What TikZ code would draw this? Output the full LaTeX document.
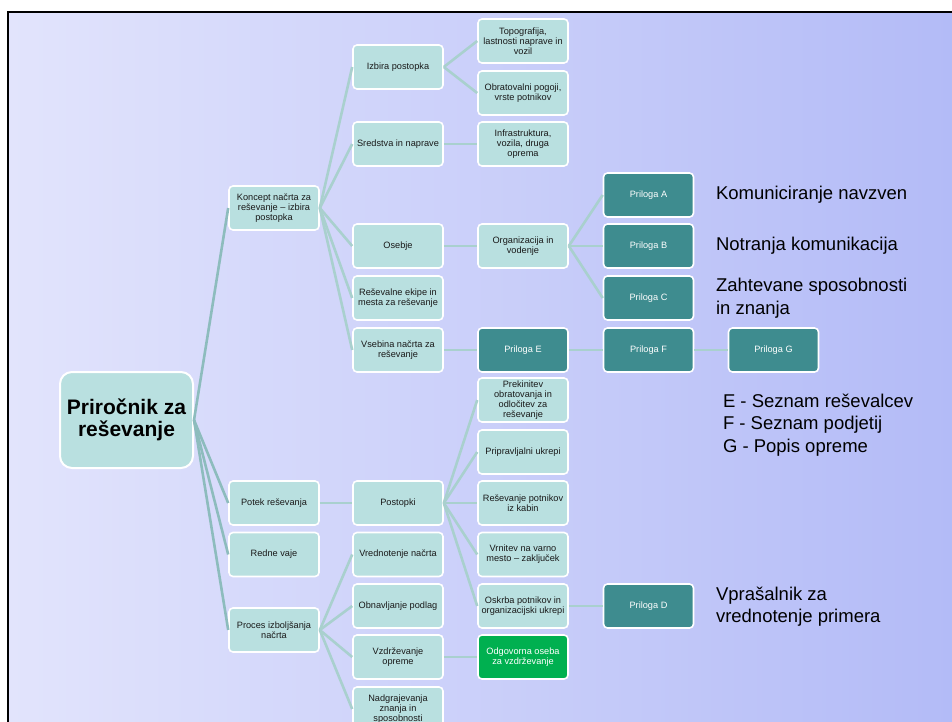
\documentclass[tikz,border=0pt]{standalone}
\usepackage{fontspec}
\setmainfont{Liberation Sans}
\usepackage{tikz}
\usetikzlibrary{calc}
\usetikzlibrary{positioning}
\definecolor{bgleft}{HTML}{E2E4FC}
\definecolor{bgright}{HTML}{B3BBF7}
\definecolor{lightteal}{HTML}{B9E0E0}
\definecolor{darkteal}{HTML}{3E8C8F}
\definecolor{greenbox}{HTML}{00B050}
\definecolor{rootline}{HTML}{8DBCBD}
\definecolor{branchline}{HTML}{A9D0CE}
\tikzstyle{basenode} = [draw=white, line width=1.6pt, rounded corners=4pt, minimum width=90pt, minimum height=44pt, align=center, inner sep=1pt, font=\fontsize{9.2}{10}\selectfont]
\tikzstyle{lightnode} = [basenode, fill=lightteal, text=black!90]
\tikzstyle{darknode} = [basenode, fill=darkteal, text=white]
\tikzstyle{greennode} = [basenode, fill=greenbox, text=white]
\tikzstyle{rootnode} = [draw=white, line width=2pt, rounded corners=12pt, fill=lightteal, minimum width=133pt, minimum height=96pt, align=center, font=\fontsize{21}{22}\selectfont\bfseries]
\tikzstyle{note} = [anchor=west, inner sep=0pt, align=left, font=\fontsize{18.5}{22.5}\selectfont]
\tikzstyle{rootedge} = [draw=rootline, line width=2.6pt]
\tikzstyle{edge} = [draw=branchline, line width=2.6pt]

\begin{document}
\begin{tikzpicture}[x=1pt, y=-1pt]
    \useasboundingbox (0,0) rectangle (952,722);
    \fill[white] (0,0) rectangle (952,722);
    \shade[left color=bgleft, right color=bgright] (8,12) rectangle (952,722);
    \draw[line width=2.6pt, black] (8,722) -- (8,12) -- (952,12);

    \node[rootnode] (root) at (126.5,420) {Priročnik za\\reševanje};
    \node[lightnode] (kon) at ($(root)+(147.5,-212)$) {Koncept načrta za\\reševanje – izbira\\postopka};
    \node[lightnode] (pot) at ($(root)+(147.5,83)$) {Potek reševanja};
    \node[lightnode] (vaje) at ($(root)+(147.5,134.5)$) {Redne vaje};
    \node[lightnode] (proc) at ($(root)+(147.5,210)$) {Proces izboljšanja\\načrta};
    \draw[rootedge] (root.east) -- (kon.west);
    \draw[rootedge] (root.east) -- (pot.west);
    \draw[rootedge] (root.east) -- (vaje.west);
    \draw[rootedge] (root.east) -- (proc.west);

    \node[lightnode] (kon_izbira) at ($(kon)+(124,-141)$) {Izbira postopka};
    \node[lightnode] (kon_sred) at ($(kon)+(124,-64)$) {Sredstva in naprave};
    \node[lightnode] (kon_oseb) at ($(kon)+(124,38)$) {Osebje};
    \node[lightnode] (kon_ekipe) at ($(kon)+(124,90)$) {Reševalne ekipe in\\mesta za reševanje};
    \node[lightnode] (kon_vseb) at ($(kon)+(124,142)$) {Vsebina načrta za\\reševanje};
    \draw[edge] (kon.east) -- (kon_izbira.west);
    \draw[edge] (kon.east) -- (kon_sred.west);
    \draw[edge] (kon.east) -- (kon_oseb.west);
    \draw[edge] (kon.east) -- (kon_ekipe.west);
    \draw[edge] (kon.east) -- (kon_vseb.west);

    \node[lightnode] (izb_topo) at ($(kon_izbira)+(125,-26)$) {Topografija,\\lastnosti naprave in\\vozil};
    \node[lightnode] (izb_obrat) at ($(kon_izbira)+(125,26)$) {Obratovalni pogoji,\\vrste potnikov};
    \node[lightnode] (sred_infra) at ($(kon_sred)+(125,0)$) {Infrastruktura,\\vozila, druga\\oprema};
    \node[lightnode] (oseb_org) at ($(kon_oseb)+(125,0)$) {Organizacija in\\vodenje};
    \node[darknode] (vseb_E) at ($(kon_vseb)+(125,0)$) {Priloga E};
    \draw[edge] (kon_izbira.east) -- (izb_topo.west);
    \draw[edge] (kon_izbira.east) -- (izb_obrat.west);
    \draw[edge] (kon_sred.east) -- (sred_infra.west);
    \draw[edge] (kon_oseb.east) -- (oseb_org.west);
    \draw[edge] (kon_vseb.east) -- (vseb_E.west);

    \node[darknode] (org_A) at ($(oseb_org)+(125.5,-51)$) {Priloga A};
    \node[darknode] (org_B) at ($(oseb_org)+(125.5,0)$) {Priloga B};
    \node[darknode] (org_C) at ($(oseb_org)+(125.5,52)$) {Priloga C};
    \node[darknode] (vseb_F) at ($(vseb_E)+(125.5,0)$) {Priloga F};
    \node[darknode] (vseb_G) at ($(vseb_F)+(125,0)$) {Priloga G};
    \draw[edge] (oseb_org.east) -- (org_A.west);
    \draw[edge] (oseb_org.east) -- (org_B.west);
    \draw[edge] (oseb_org.east) -- (org_C.west);
    \draw[edge] (vseb_E.east) -- (vseb_F.west);
    \draw[edge] (vseb_F.east) -- (vseb_G.west);

    \node[note] (note_A) at ($(org_A.east)+(21.5,0)$) {Komuniciranje navzven};
    \node[note] (note_B) at ($(org_B.east)+(21.5,0)$) {Notranja komunikacija};
    \node[note] (note_C) at ($(org_C.east)+(21.5,0)$) {Zahtevane sposobnosti\\in znanja};
    \node[note] (note_EFG) at ($(vseb_F.east)+(28.5,75)$) {E - Seznam reševalcev\\F - Seznam podjetij\\G - Popis opreme};

    \node[lightnode] (pot_post) at ($(pot)+(124,0)$) {Postopki};
    \draw[edge] (pot.east) -- (pot_post.west);
    \node[lightnode] (post_prek) at ($(pot_post)+(125,-103)$) {Prekinitev\\obratovanja in\\odločitev za\\reševanje};
    \node[lightnode] (post_prip) at ($(pot_post)+(125,-51)$) {Pripravljalni ukrepi};
    \node[lightnode] (post_resev) at ($(pot_post)+(125,0)$) {Reševanje potnikov\\iz kabin};
    \node[lightnode] (post_vrn) at ($(pot_post)+(125,51.5)$) {Vrnitev na varno\\mesto – zaključek};
    \node[lightnode] (post_oskrba) at ($(pot_post)+(125,103)$) {Oskrba potnikov in\\organizacijski ukrepi};
    \draw[edge] (pot_post.east) -- (post_prek.west);
    \draw[edge] (pot_post.east) -- (post_prip.west);
    \draw[edge] (pot_post.east) -- (post_resev.west);
    \draw[edge] (pot_post.east) -- (post_vrn.west);
    \draw[edge] (pot_post.east) -- (post_oskrba.west);
    \node[darknode] (oskrba_D) at ($(post_oskrba)+(125.5,0)$) {Priloga D};
    \draw[edge] (post_oskrba.east) -- (oskrba_D.west);
    \node[note] (note_D) at ($(oskrba_D.east)+(21.5,0.5)$) {Vprašalnik za\\vrednotenje primera};

    \node[lightnode] (proc_vred) at ($(proc)+(124,-75.5)$) {Vrednotenje načrta};
    \node[lightnode] (proc_obn) at ($(proc)+(124,-24)$) {Obnavljanje podlag};
    \node[lightnode] (proc_vzd) at ($(proc)+(124,27)$) {Vzdrževanje\\opreme};
    \node[lightnode] (proc_nadg) at ($(proc)+(124,79)$) {Nadgrajevanja\\znanja in\\sposobnosti};
    \draw[edge] (proc.east) -- (proc_vred.west);
    \draw[edge] (proc.east) -- (proc_obn.west);
    \draw[edge] (proc.east) -- (proc_vzd.west);
    \draw[edge] (proc.east) -- (proc_nadg.west);
    \node[greennode] (vzd_odg) at ($(proc_vzd)+(125,0)$) {Odgovorna oseba\\za vzdrževanje};
    \draw[edge] (proc_vzd.east) -- (vzd_odg.west);
\end{tikzpicture}
\end{document}
